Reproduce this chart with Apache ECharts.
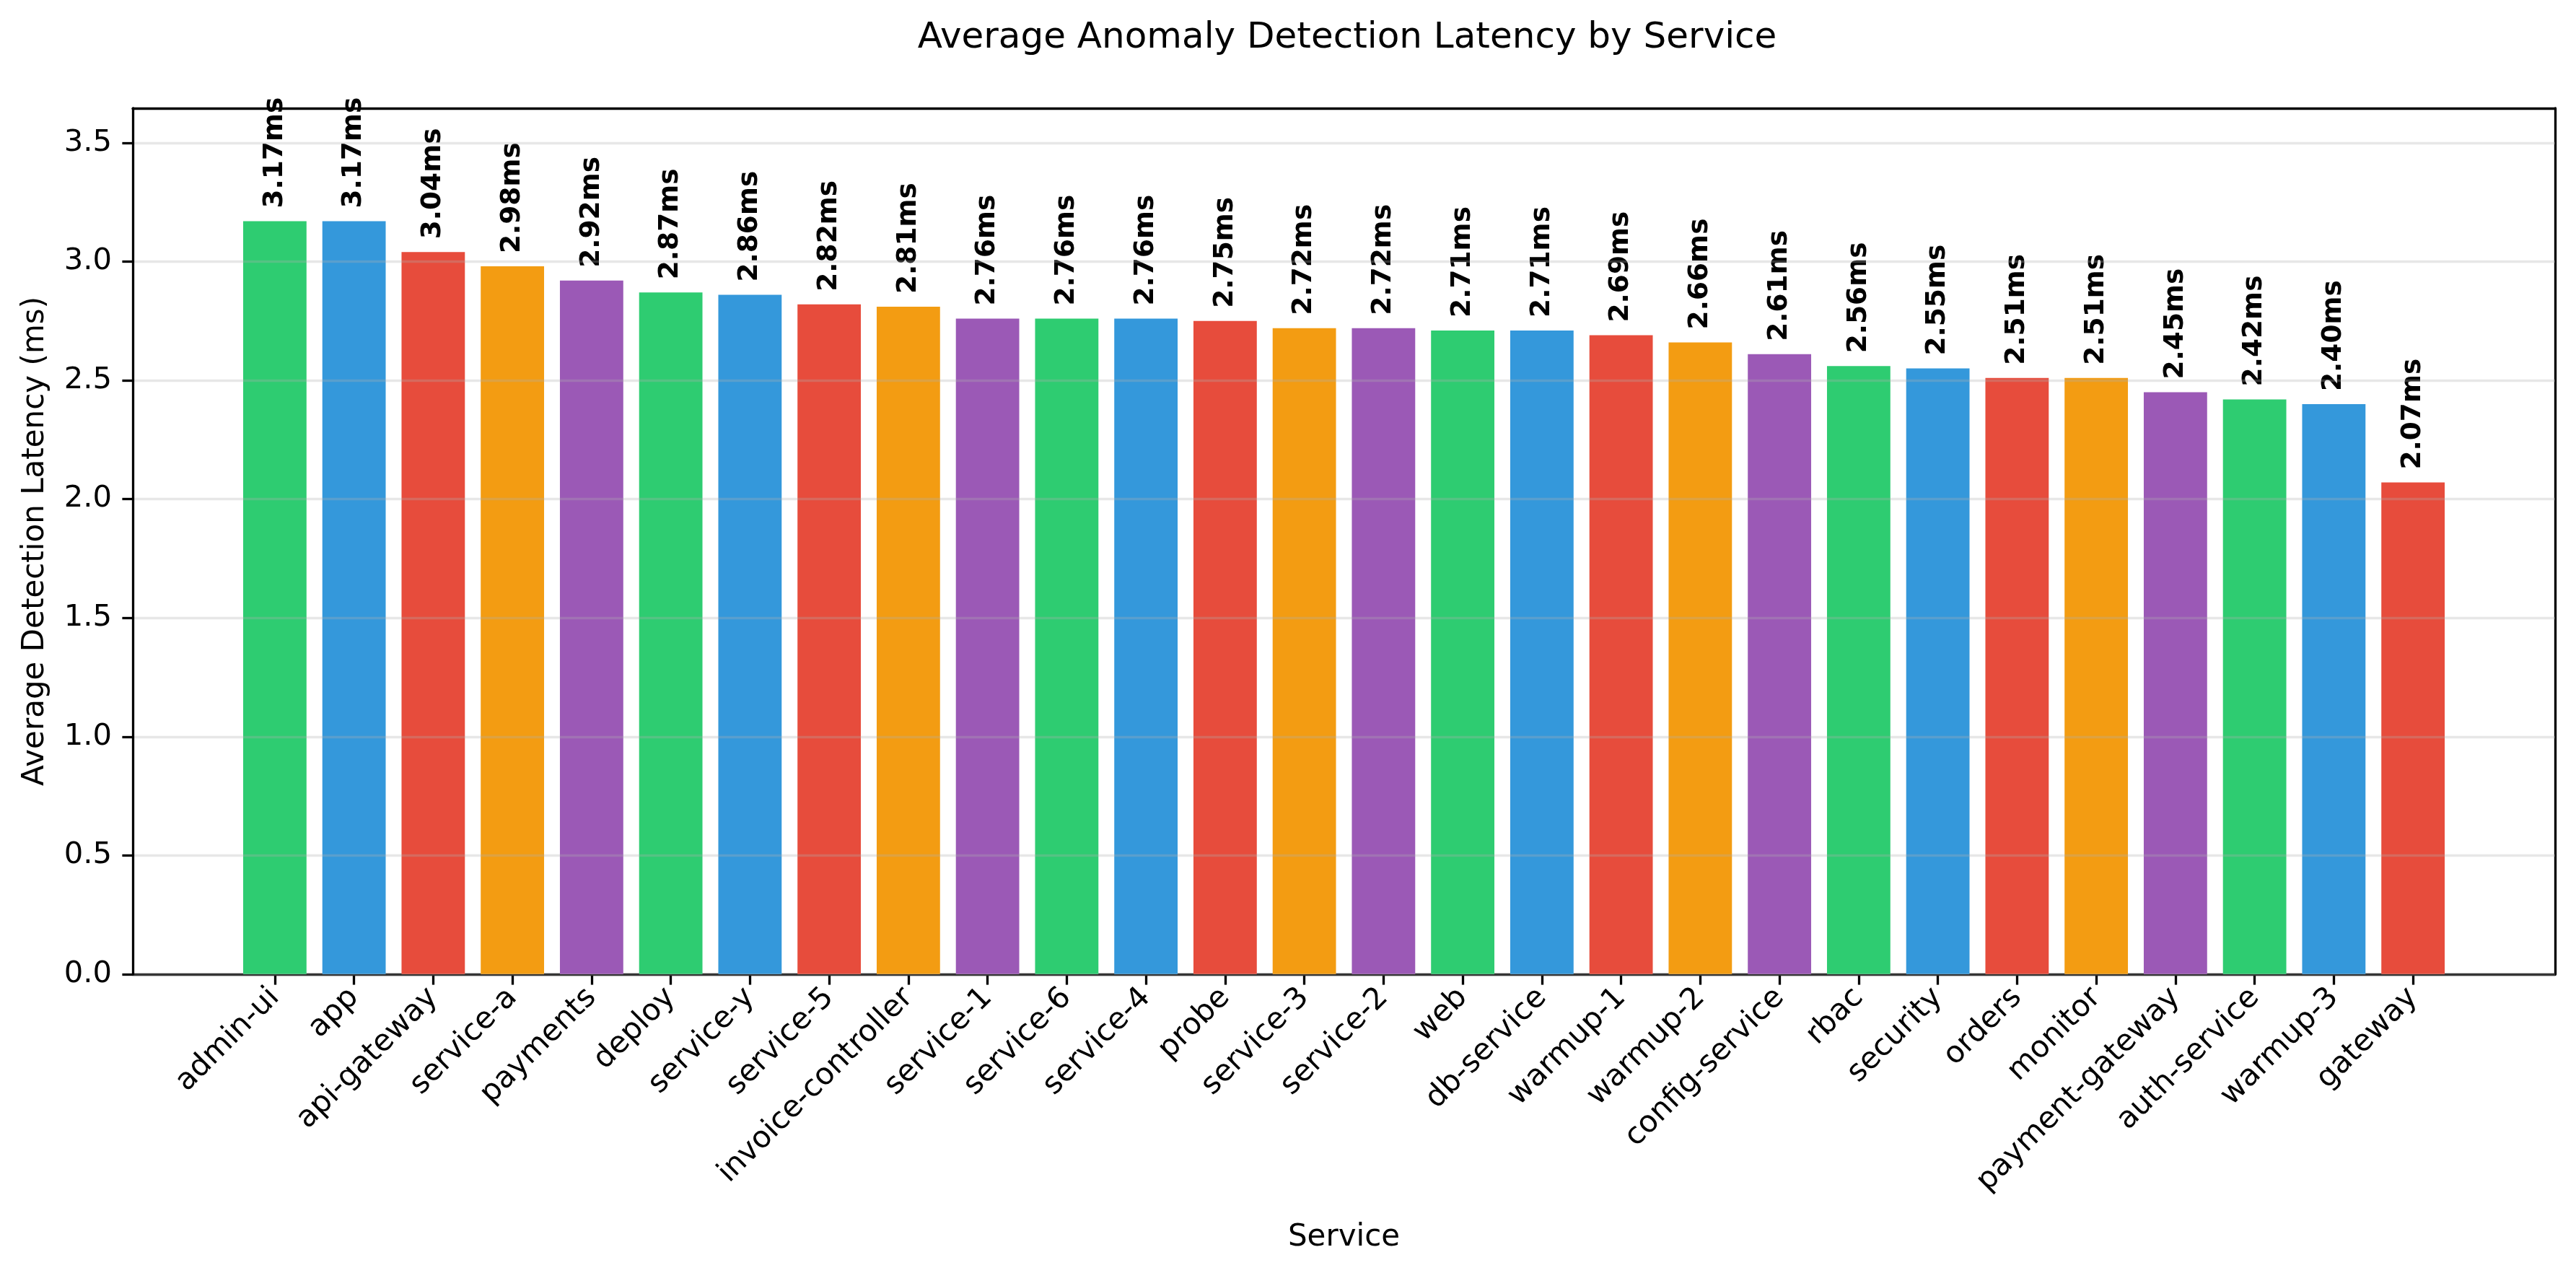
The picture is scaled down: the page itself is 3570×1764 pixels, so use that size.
<!DOCTYPE html>
<html>
<head>
<meta charset="utf-8">
<title>Average Anomaly Detection Latency by Service</title>
<script src="https://cdn.jsdelivr.net/npm/echarts@6/dist/echarts.min.js"></script>
<style>
  html, body { margin: 0; padding: 0; background: #ffffff; }
  #J_chart { width: 3570px; height: 1764px; }
</style>
</head>
<body>
<div id="J_chart"></div>
<script>
// data
var services = ['admin-ui', 'app', 'api-gateway', 'service-a', 'payments', 'deploy', 'service-y',
    'service-5', 'invoice-controller', 'service-1', 'service-6', 'service-4', 'probe', 'service-3',
    'service-2', 'web', 'db-service', 'warmup-1', 'warmup-2', 'config-service', 'rbac', 'security',
    'orders', 'monitor', 'payment-gateway', 'auth-service', 'warmup-3', 'gateway'];
var latencyMs = [3.17, 3.17, 3.04, 2.98, 2.92, 2.87, 2.86, 2.82, 2.81, 2.76, 2.76, 2.76, 2.75, 2.72,
    2.72, 2.71, 2.71, 2.69, 2.66, 2.61, 2.56, 2.55, 2.51, 2.51, 2.45, 2.42, 2.40, 2.07];
var yTicks = [0, 0.5, 1.0, 1.5, 2.0, 2.5, 3.0, 3.5];
var yMax = 3.6455;

(function(){
    var myChart = echarts.init(document.getElementById('J_chart'));
    var barColors = ['#2ecc71', '#3498db', '#e74c3c', '#f39c12', '#9b59b6'];
    var font = '"DejaVu Sans", sans-serif';
    var lineW = 3.3;

    var frameLine = { show: true, onZero: false, lineStyle: { color: '#000', width: lineW } };

    option = {
        animation: false,
        backgroundColor: '#ffffff',
        textStyle: { fontFamily: font },
        title: {
            left: 1862,
            textAlign: 'center',
            top: 23,
            text: 'Average Anomaly Detection Latency by Service',
            textStyle: { color: '#000', fontWeight: 'normal', fontFamily: font, fontSize: 50 }
        },
        grid: [
            // bars
            { left: 326, right: 171, top: 150, bottom: 414 },
            // frame + y scale
            { left: 184, right: 29, top: 150, bottom: 414 }
        ],
        xAxis: [
            {
                type: 'category',
                gridIndex: 0,
                data: services,
                boundaryGap: true,
                name: 'Service',
                nameLocation: 'middle',
                nameGap: 344,
                nameTextStyle: { color: '#000', fontSize: 42, fontFamily: font },
                axisLine: { show: false },
                axisTick: { show: true, alignWithLabel: true, length: 14.6, lineStyle: { color: '#000', width: lineW } },
                axisLabel: { interval: 0, rotate: 45, margin: 26, color: '#000', fontSize: 41.7, fontFamily: font },
                splitLine: { show: false }
            },
            {
                type: 'value', gridIndex: 1, min: 0, max: 1, position: 'bottom',
                axisLine: frameLine, axisTick: { show: false }, axisLabel: { show: false }, splitLine: { show: false }
            },
            {
                type: 'value', gridIndex: 1, min: 0, max: 1, position: 'top',
                axisLine: frameLine, axisTick: { show: false }, axisLabel: { show: false }, splitLine: { show: false }
            }
        ],
        yAxis: [
            {
                type: 'value', gridIndex: 0, min: 0, max: yMax,
                show: false
            },
            {
                type: 'value', gridIndex: 1, min: 0, max: yMax, interval: 0.5,
                z: 5,
                name: 'Average Detection Latency (ms)',
                nameLocation: 'middle',
                nameRotate: 90,
                nameGap: 114,
                nameTextStyle: { color: '#000', fontSize: 42, fontFamily: font },
                axisLine: frameLine,
                axisTick: { show: true, length: 14.6, customValues: yTicks, lineStyle: { color: '#000', width: lineW } },
                axisLabel: {
                    customValues: yTicks,
                    margin: 29, color: '#000', fontSize: 41.7, fontFamily: font,
                    formatter: function (v) { return v.toFixed(1); }
                },
                splitLine: { show: true, lineStyle: { color: 'rgba(176,176,176,0.3)', width: lineW } }
            },
            {
                type: 'value', gridIndex: 1, min: 0, max: yMax, position: 'right',
                axisLine: frameLine, axisTick: { show: false }, axisLabel: { show: false }, splitLine: { show: false }
            }
        ],
        series: [
            {
                name: 'Average Detection Latency',
                type: 'bar',
                xAxisIndex: 0,
                yAxisIndex: 0,
                barWidth: '80%',
                itemStyle: {
                    color: function (p) { return barColors[p.dataIndex % barColors.length]; }
                },
                label: {
                    show: true,
                    position: 'top',
                    distance: 18,
                    rotate: 90,
                    align: 'left',
                    verticalAlign: 'middle',
                    color: '#000',
                    fontWeight: 'bold',
                    fontSize: 37.5,
                    fontFamily: font,
                    formatter: function (p) { return p.value.toFixed(2) + 'ms'; }
                },
                data: latencyMs
            }
        ]
    };

    myChart.setOption(option);
})();
</script>
</body>
</html>
